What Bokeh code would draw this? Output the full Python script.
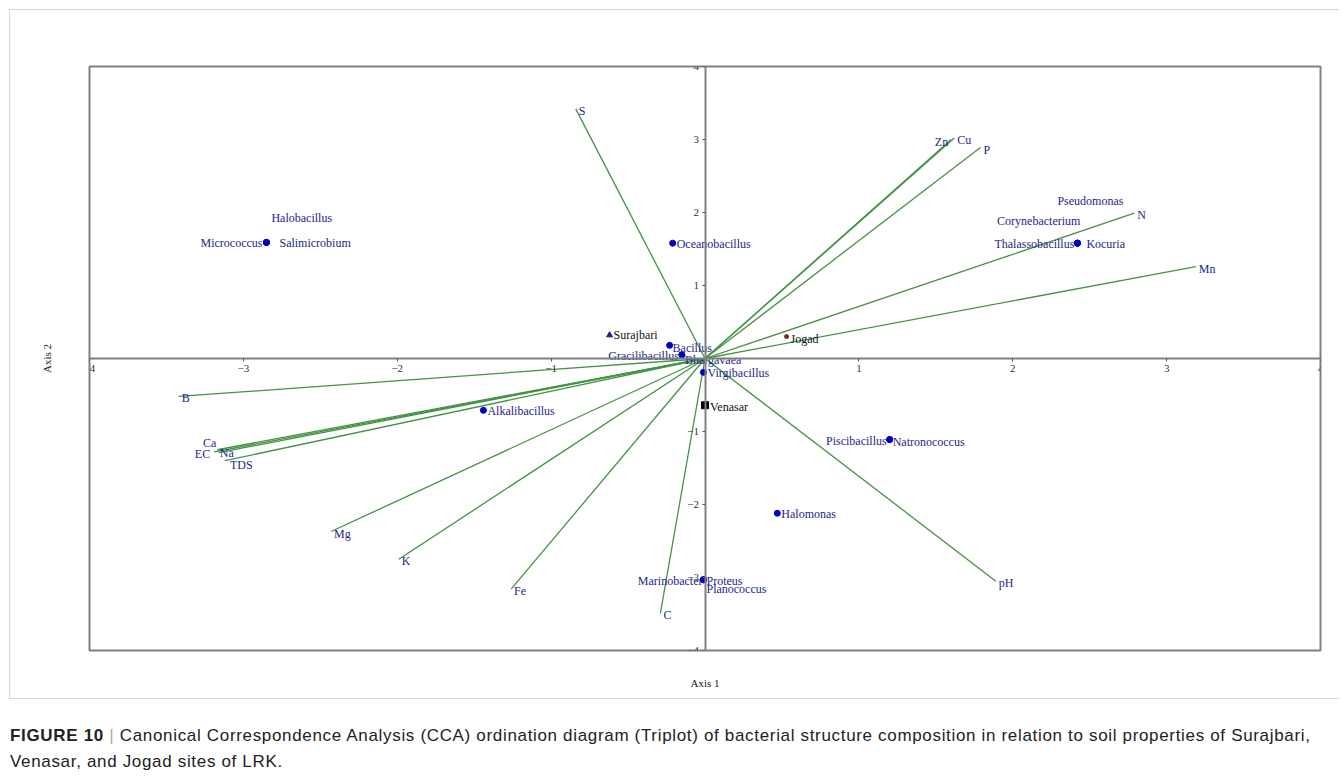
from bokeh.plotting import figure
from bokeh.models import ColumnDataSource, LinearAxis, FixedTicker, Div, Range1d
from bokeh.layouts import column
from bokeh.core.properties import value
from bokeh.embed import file_html
from bokeh.resources import INLINE

# ---------------- data ----------------
env_names = ["S", "Zn", "Cu", "P", "N", "Mn", "pH", "C", "Fe", "K", "Mg", "B",
             "Ca", "EC", "Na", "TDS"]
env_x = [-0.84, 1.60, 1.62, 1.79, 2.79, 3.19, 1.89, -0.29, -1.26, -1.99, -2.43, -3.42,
         -3.17, -3.19, -3.16, -3.12]
env_y = [3.42, 3.00, 3.02, 2.89, 1.99, 1.26, -3.05, -3.49, -3.16, -2.75, -2.37, -0.52,
         -1.25, -1.28, -1.29, -1.40]

species_names = ["Micrococcus", "Halobacillus", "Salimicrobium", "Oceanobacillus", "Bacillus",
                 "Gracilibacillus", "Bhargavaea", "Virgibacillus", "Alkalibacillus",
                 "Piscibacillus", "Natronococcus", "Halomonas", "Marinobacter", "Proteus",
                 "Planococcus", "Thalassobacillus", "Kocuria", "Corynebacterium", "Pseudomonas"]
species_x = [-2.85, -2.85, -2.85, -0.21, -0.23, -0.15, -0.15, -0.01, -1.44, 1.20, 1.20, 0.47,
             -0.01, -0.01, -0.01, 2.42, 2.42, 2.42, 2.42]
species_y = [1.59, 1.59, 1.59, 1.58, 0.18, 0.05, 0.05, -0.19, -0.71, -1.11, -1.11, -2.12,
             -3.03, -3.03, -3.03, 1.58, 1.58, 1.58, 1.58]

site_names = ["Surajbari", "Venasar", "Jogad"]
site_x = [-0.62, 0.00, 0.53]
site_y = [0.32, -0.64, 0.30]

tick_values = [-4, -3, -2, -1, 1, 2, 3, 4]

# ---------------- label placement (screen px) ----------------
env_place = {"Zn": ("right", -3, 2), "Ca": ("right", -1, -7), "EC": ("right", -4, 2),
             "Na": ("left", 1, 0), "TDS": ("left", 5, 4)}
sp_place = {"Micrococcus": ("right", -4, 1), "Halobacillus": ("left", 5, -24),
            "Salimicrobium": ("left", 13, 1), "Gracilibacillus": ("right", -3, 1),
            "Bhargavaea": ("left", 3, 5), "Bacillus": ("left", 3, 3),
            "Piscibacillus": ("right", -3, 1), "Natronococcus": ("left", 3, 2),
            "Marinobacter": ("right", -1, 1), "Proteus": ("left", 3, 1),
            "Planococcus": ("left", 3, 9), "Thalassobacillus": ("right", -3, 1),
            "Kocuria": ("left", 9, 1), "Corynebacterium": ("right", 3, -22),
            "Pseudomonas": ("left", -20, -42)}
site_place = {"Surajbari": ("left", 4, 0), "Venasar": ("left", 5, 2), "Jogad": ("left", 4, 2)}


def placed(names, xs, ys, place, default):
    al, dx, dy = [], [], []
    for n in names:
        a, ox, oy = place.get(n, default)
        al.append(a); dx.append(ox); dy.append(oy)
    return ColumnDataSource(dict(x=xs, y=ys, text=names, align=al, dx=dx, dy=dy))


SERIF = value("Liberation Serif")
LABEL_BLUE = "#1e1e8c"
GREEN = "#459345"

p = figure(width=1330, height=690, x_range=Range1d(-4, 4), y_range=Range1d(-4, 4),
           output_backend="svg", toolbar_location=None,
           x_axis_location=None, y_axis_location=None,
           min_border_left=79, min_border_right=20, min_border_top=56, min_border_bottom=50)
p.margin = (9, 0, 0, 9)
p.styles = {"border-top": "1px solid #d6d6d6", "border-left": "1px solid #d6d6d6",
            "border-bottom": "1px solid #d6d6d6"}
for g in p.grid:
    g.visible = False
p.outline_line_color = "#808080"
p.outline_line_width = 2
p.background_fill_color = "white"
p.border_fill_color = "white"

# axis titles (outer)
ax_t = LinearAxis(ticker=FixedTicker(ticks=[]), axis_line_color=None, major_tick_out=0,
                  major_tick_in=0, major_label_standoff=0, axis_label="Axis 1",
                  axis_label_text_font="Liberation Serif", axis_label_text_font_size="11px",
                  axis_label_text_font_style="normal", axis_label_text_color="#222",
                  axis_label_standoff=26, minor_tick_line_color=None)
p.add_layout(ax_t, "below")
ay_t = LinearAxis(ticker=FixedTicker(ticks=[]), axis_line_color=None, major_tick_out=0,
                  major_tick_in=0, major_label_standoff=0, axis_label="Axis 2",
                  axis_label_text_font="Liberation Serif", axis_label_text_font_size="11px",
                  axis_label_text_font_style="normal", axis_label_text_color="#222",
                  axis_label_standoff=37, minor_tick_line_color=None)
p.add_layout(ay_t, "left")

# central axes through the origin
common = dict(ticker=FixedTicker(ticks=tick_values), axis_line_color="#808080", axis_line_width=2,
              major_tick_line_color="#555555", major_tick_in=0, major_tick_out=3,
              minor_tick_line_color=None, major_label_text_font="Liberation Serif",
              major_label_text_font_size="11px", major_label_text_color="#333333",
              major_label_standoff=3)
xa = LinearAxis(fixed_location=0, **common)
ya = LinearAxis(fixed_location=0, **common)
p.add_layout(xa, "below")
p.add_layout(ya, "left")

# environmental vectors
env_src = placed(env_names, env_x, env_y, env_place, ("left", 3, 2))
p.segment(x0=0, y0=0, x1="x", y1="y", source=env_src, line_color=GREEN, line_width=1.3)
p.text(x="x", y="y", text="text", source=env_src, text_align="align", x_offset="dx",
       y_offset="dy", text_baseline="middle", text_font=SERIF, text_font_size="12px",
       text_color=LABEL_BLUE)

# species
sp_src = placed(species_names, species_x, species_y, sp_place, ("left", 4, 1))
p.scatter(x="x", y="y", source=sp_src, size=6, marker="circle", fill_color="#0000c0",
          line_color="#0000c0")
p.text(x="x", y="y", text="text", source=sp_src, text_align="align", x_offset="dx",
       y_offset="dy", text_baseline="middle", text_font=SERIF, text_font_size="12px",
       text_color=LABEL_BLUE)

# sites
site_src = placed(site_names, site_x, site_y, site_place, ("left", 4, 0))
p.scatter(x=[site_x[0]], y=[site_y[0]], marker="triangle", size=6, fill_color="#1e1e8c",
          line_color="#1e1e8c")
p.scatter(x=[site_x[1]], y=[site_y[1]], marker="square", size=7, fill_color="black",
          line_color="black")
p.scatter(x=[site_x[2]], y=[site_y[2]], marker="circle", size=4, fill_color="#8b2020",
          line_color="#8b2020")
p.text(x="x", y="y", text="text", source=site_src, text_align="align", x_offset="dx",
       y_offset="dy", text_baseline="middle", text_font=SERIF, text_font_size="12px",
       text_color="#111111")

caption = Div(
    text='<b style="font-weight:bold">FIGURE 10</b> <span style="color:#aaaaaa">|</span> '
         'Canonical Correspondence Analysis (CCA) ordination diagram (Triplot) of bacterial '
         'structure composition in relation to soil properties of Surajbari,<br>'
         'Venasar, and Jogad sites of LRK.',
    width=1330, margin=(24, 0, 0, 10),
    styles={"font-family": "'Liberation Sans',Arial,sans-serif",
            "font-size": "17px", "letter-spacing": "0.67px", "line-height": "26px",
            "color": "#222222", "white-space": "nowrap"})

layout = column(p, caption)
open("out.html", "w").write(file_html(layout, INLINE))
